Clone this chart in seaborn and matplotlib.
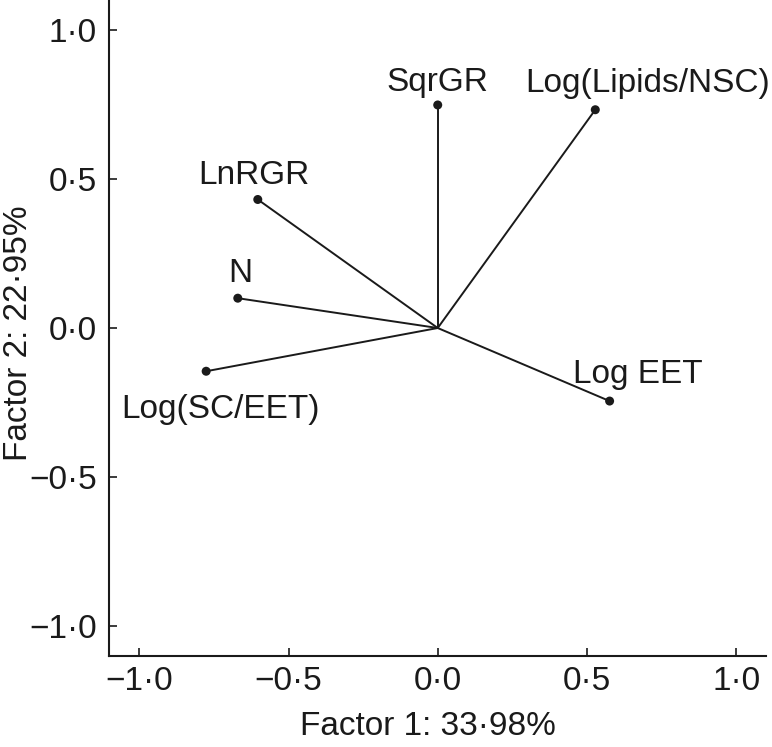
import matplotlib
matplotlib.use("Agg")
import matplotlib.pyplot as plt
import pandas as pd
import seaborn as sns

variables = ["SqrGR", "Log(Lipids/NSC)", "LnRGR", "N", "Log(SC/EET)", "Log EET"]
factor1 = [0.0, 0.528, -0.603, -0.670, -0.776, 0.576]
factor2 = [0.748, 0.732, 0.431, 0.100, -0.145, -0.245]

tick_values = [-1.0, -0.5, 0.0, 0.5, 1.0]
tick_labels = ["\u22121\u00b70", "\u22120\u00b75", "0\u00b70", "0\u00b75", "1\u00b70"]

# label offsets from the dot, in points
label_dx = [0, 38, -3, 2, 10, 20]
label_dy = [10, 12.7, 11.5, 11.3, -34, 12.7]

df = pd.DataFrame({"var": variables, "f1": factor1, "f2": factor2})

sns.set_style("ticks")
plt.rcParams["font.family"] = ["Liberation Sans", "DejaVu Sans"]

ink = "#1a1a1a"
fs = 24

fig = plt.figure(figsize=(7.72, 7.47), dpi=100)
ax = fig.add_axes([0.1418, 0.1218, 0.8504, 0.8782])

# loading vectors from the origin
for _, r in df.iterrows():
    ax.plot([0, r.f1], [0, r.f2], color=ink, lw=1.4, zorder=2)

sns.scatterplot(data=df, x="f1", y="f2", ax=ax, color=ink, s=42,
                edgecolor="none", zorder=3, legend=False)

for i, r in df.iterrows():
    ax.annotate(r["var"], xy=(r.f1, r.f2), xytext=(label_dx[i], label_dy[i]),
                textcoords="offset points", ha="center", va="baseline",
                fontsize=fs, color=ink)

ax.set_xlim(-1.1, 1.1)
ax.set_ylim(-1.1, 1.1)
ax.set_xticks(tick_values)
ax.set_xticklabels(tick_labels)
ax.set_yticks(tick_values)
ax.set_yticklabels(tick_labels)
ax.tick_params(direction="in", length=5.5, width=1.2, labelsize=fs,
               colors=ink)
ax.tick_params(axis="x", pad=7)
ax.tick_params(axis="y", pad=9)
for s in ["left", "bottom"]:
    ax.spines[s].set_linewidth(1.5)
    ax.spines[s].set_color(ink)
sns.despine(ax=ax)

ax.set_xlabel("Factor 1: 33\u00b798%", fontsize=fs, color=ink)
ax.set_ylabel("Factor 2: 22\u00b795%", fontsize=fs, color=ink)
ax.xaxis.set_label_coords(0.485, -0.084)
ax.yaxis.set_label_coords(-0.138, 0.492)
ax.yaxis.label.set_va("center")

fig.savefig("out.png", dpi=100)
